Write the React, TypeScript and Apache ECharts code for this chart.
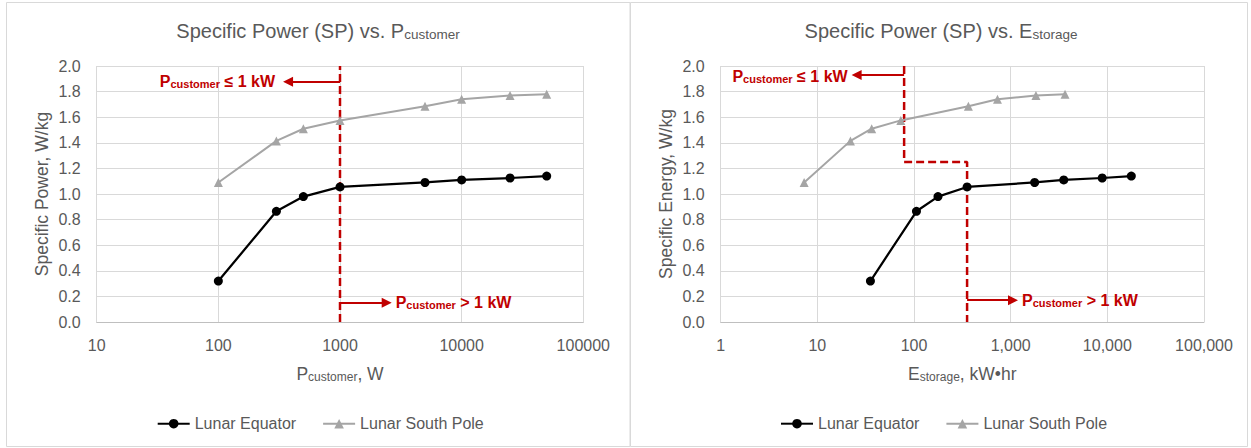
import React, { useEffect, useRef } from "react";
import * as echarts from "echarts";

// ---------- data ----------
const seriesNames = ["Lunar Equator", "Lunar South Pole"];
const pCustomerW = [100, 300, 500, 1000, 5000, 10000, 25000, 50000];
const eStorageEquator = [35.4, 106, 177, 354, 1770, 3540, 8850, 17700];
const eStorageSouthPole = [7.3, 22, 36.5, 73, 365, 730, 1825, 3650];
const spEquator = [0.32, 0.865, 0.98, 1.055, 1.09, 1.11, 1.125, 1.14];
const spSouthPole = [1.09, 1.415, 1.51, 1.575, 1.685, 1.74, 1.77, 1.78];

// threshold (1 kW) dashed guides
const leftLimitX = [1000, 1000];
const leftLimitY = [0, 2];
const rightLimitX = [79, 79, 354, 354];
const rightLimitY = [2, 1.25, 1.25, 0];

// annotation arrows [fromX, toX], y
const leftArrowLeX = [1000, 374];
const leftArrowLeY = 1.877;
const leftArrowGtX = [1000, 2420];
const leftArrowGtY = 0.15;
const rightArrowLeX = [79, 25.5];
const rightArrowLeY = 1.93;
const rightArrowGtX = [354, 1057];
const rightArrowGtY = 0.17;

const titles = ["Specific Power (SP) vs. P", "Specific Power (SP) vs. E"];
const titleSubs = ["customer", "storage"];
const xNames = ["P", "E"];
const xNameSubs = ["customer", "storage"];
const xNameUnits = [", W", ", kW\u2022hr"];
const yNames = ["Specific Power, W/kg", "Specific Energy, W/kg"];
const annoLe = " \u2264 1 kW";
const annoGt = " > 1 kW";

// ---------- style ----------
const FONT = "'Liberation Sans', Arial, sans-serif";
const TXT = "#595959";
const GRIDC = "#D9D9D9";
const RED = "#C00000";
const BLACK = "#000000";
const GRAY = "#A5A5A5";

const pairs = (xs: number[], ys: number[]) => xs.map((x, i) => [x, ys[i]]);

function arrowLine(xs: number[], y: number) {
  return [{ coord: [xs[0], y] }, { coord: [xs[1], y] }];
}

export default function App() {
  const ref = useRef<HTMLDivElement>(null);
  useEffect(() => {
    document.body.style.margin = "0";
    const chart = echarts.init(ref.current!, null, { renderer: "svg" });

    const xAxisBase = (gi: number, min: number, fmt: (v: number) => string) => ({
      type: "log",
      logBase: 10,
      gridIndex: gi,
      min,
      max: 100000,
      axisLine: { show: true, lineStyle: { color: "#BFBFBF", width: 1 } },
      axisTick: { show: false },
      splitLine: { show: true, lineStyle: { color: GRIDC, width: 1 } },
      axisLabel: { color: TXT, fontSize: 16, fontFamily: FONT, margin: 15, formatter: fmt },
    });
    const yAxisBase = (gi: number) => ({
      type: "value",
      gridIndex: gi,
      min: 0,
      max: 2,
      interval: 0.2,
      axisLine: { show: false },
      axisTick: { show: false },
      splitLine: { show: true, lineStyle: { color: GRIDC, width: 1 } },
      axisLabel: {
        color: TXT,
        fontSize: 16,
        fontFamily: FONT,
        margin: 16,
        formatter: (v: number) => v.toFixed(1),
      },
    });

    const dataSeries = (gi: number, xsEq: number[], xsSp: number[]) => [
      {
        name: seriesNames[0],
        type: "line",
        xAxisIndex: gi,
        yAxisIndex: gi,
        data: pairs(xsEq, spEquator),
        symbol: "circle",
        symbolSize: 9,
        itemStyle: { color: BLACK },
        lineStyle: { color: BLACK, width: 2.25 },
        z: 3,
      },
      {
        name: seriesNames[1],
        type: "line",
        xAxisIndex: gi,
        yAxisIndex: gi,
        data: pairs(xsSp, spSouthPole),
        symbol: "triangle",
        symbolSize: 9,
        itemStyle: { color: GRAY },
        lineStyle: { color: GRAY, width: 2 },
        z: 3,
      },
    ];

    const limitSeries = (
      gi: number,
      xs: number[],
      ys: number[],
      arrows: any[]
    ) => ({
      name: "limit" + gi,
      type: "line",
      xAxisIndex: gi,
      yAxisIndex: gi,
      data: pairs(xs, ys),
      symbol: "none",
      silent: true,
      z: 2,
      lineStyle: { color: RED, width: 2.5, type: [8, 4] },
      markLine: {
        silent: true,
        symbol: ["none", "triangle"],
        symbolSize: 10,
        label: { show: false },
        lineStyle: { color: RED, width: 2, type: "solid" },
        itemStyle: { color: RED },
        emphasis: { disabled: true },
        data: arrows,
      },
    });

    const legendBase = (left: number) => ({
      data: seriesNames,
      left,
      top: 410.7,
      itemWidth: 32,
      itemHeight: 12,
      itemGap: 26,
      selectedMode: false,
      textStyle: { color: TXT, fontSize: 16, fontFamily: FONT },
    });

    chart.setOption({
      animation: false,
      backgroundColor: "#ffffff",
      textStyle: { fontFamily: FONT },
      grid: [
        { left: 96.7, top: 66, width: 486.6, height: 256 },
        { left: 720.7, top: 66, width: 483.3, height: 256 },
      ],
      xAxis: [
        xAxisBase(0, 10, (v: number) => String(Math.round(v))),
        xAxisBase(1, 1, (v: number) => Math.round(v).toLocaleString("en-US")),
      ],
      yAxis: [yAxisBase(0), yAxisBase(1)],
      legend: [legendBase(151.7), legendBase(775)],
      series: [
        limitSeries(0, leftLimitX, leftLimitY, [
          arrowLine(leftArrowLeX, leftArrowLeY),
          arrowLine(leftArrowGtX, leftArrowGtY),
        ]),
        limitSeries(1, rightLimitX, rightLimitY, [
          arrowLine(rightArrowLeX, rightArrowLeY),
          arrowLine(rightArrowGtX, rightArrowGtY),
        ]),
        ...dataSeries(0, pCustomerW, pCustomerW),
        ...dataSeries(1, eStorageEquator, eStorageSouthPole),
      ],
    });

    const px = (gi: number, x: number, y: number) =>
      chart.convertToPixel({ gridIndex: gi } as any, [x, y]) as number[];

    const subText = (
      main: string,
      sub: string,
      tail: string,
      mainSize: number,
      subSize: number,
      pad: number,
      color: string,
      weight: string
    ) => ({
      text: `{m|${main}}{s|${sub}}` + (tail ? `{m|${tail}}` : ""),
      rich: {
        m: { fontSize: mainSize, lineHeight: mainSize, fontFamily: FONT, fill: color, fontWeight: weight },
        s: {
          fontSize: subSize,
          lineHeight: subSize,
          fontFamily: FONT,
          fill: color,
          fontWeight: weight,
          verticalAlign: "bottom",
          padding: [pad, 0, 0, 0],
        },
      },
    });

    const panelCenters = [318, 941];
    const plotCenters = [340, 962.3];
    const yNameX = [42, 666];

    const graphics: any[] = [
      {
        type: "rect",
        shape: { x: 6.5, y: 2.5, width: 623.5, height: 444 },
        style: { fill: "none", stroke: GRIDC, lineWidth: 1 },
        silent: true,
      },
      {
        type: "rect",
        shape: { x: 630.5, y: 2.5, width: 617, height: 444 },
        style: { fill: "none", stroke: GRIDC, lineWidth: 1 },
        silent: true,
      },
    ];

    for (let i = 0; i < 2; i++) {
      graphics.push({
        type: "text",
        x: panelCenters[i],
        y: 31,
        silent: true,
        style: {
          ...subText(titles[i], titleSubs[i], "", 20, 13.5, 11.5, TXT, "normal"),
          align: "center",
          verticalAlign: "middle",
        },
      });
      graphics.push({
        type: "text",
        x: plotCenters[i],
        y: 374,
        silent: true,
        style: {
          ...subText(xNames[i], xNameSubs[i], xNameUnits[i], 17.5, 12, 10.4, TXT, "normal"),
          align: "center",
          verticalAlign: "middle",
        },
      });
      graphics.push({
        type: "text",
        x: yNameX[i],
        y: 194,
        rotation: Math.PI / 2,
        silent: true,
        style: {
          text: yNames[i],
          fontSize: 17.5,
          fontFamily: FONT,
          fill: TXT,
          align: "center",
          verticalAlign: "middle",
        },
      });
    }

    const annos = [
      { gi: 0, x: leftArrowLeX[1], y: leftArrowLeY, dx: -13, dy: 0, tail: annoLe, align: "right" },
      { gi: 0, x: leftArrowGtX[1], y: leftArrowGtY, dx: 9, dy: 0, tail: annoGt, align: "left" },
      { gi: 1, x: rightArrowLeX[1], y: rightArrowLeY, dx: -9, dy: 2, tail: annoLe, align: "right" },
      { gi: 1, x: rightArrowGtX[1], y: rightArrowGtY, dx: 9, dy: 0, tail: annoGt, align: "left" },
    ];
    for (const a of annos) {
      const p = px(a.gi, a.x, a.y);
      graphics.push({
        type: "text",
        x: p[0] + a.dx,
        y: p[1] + a.dy,
        silent: true,
        z: 10,
        style: {
          ...subText("P", "customer", a.tail, 16, 11, 10.5, RED, "bold"),
          align: a.align,
          verticalAlign: "middle",
        },
      });
    }

    chart.setOption({ graphic: { elements: graphics } });

    return () => chart.dispose();
  }, []);

  return <div ref={ref} style={{ width: 1251, height: 448 }} />;
}
